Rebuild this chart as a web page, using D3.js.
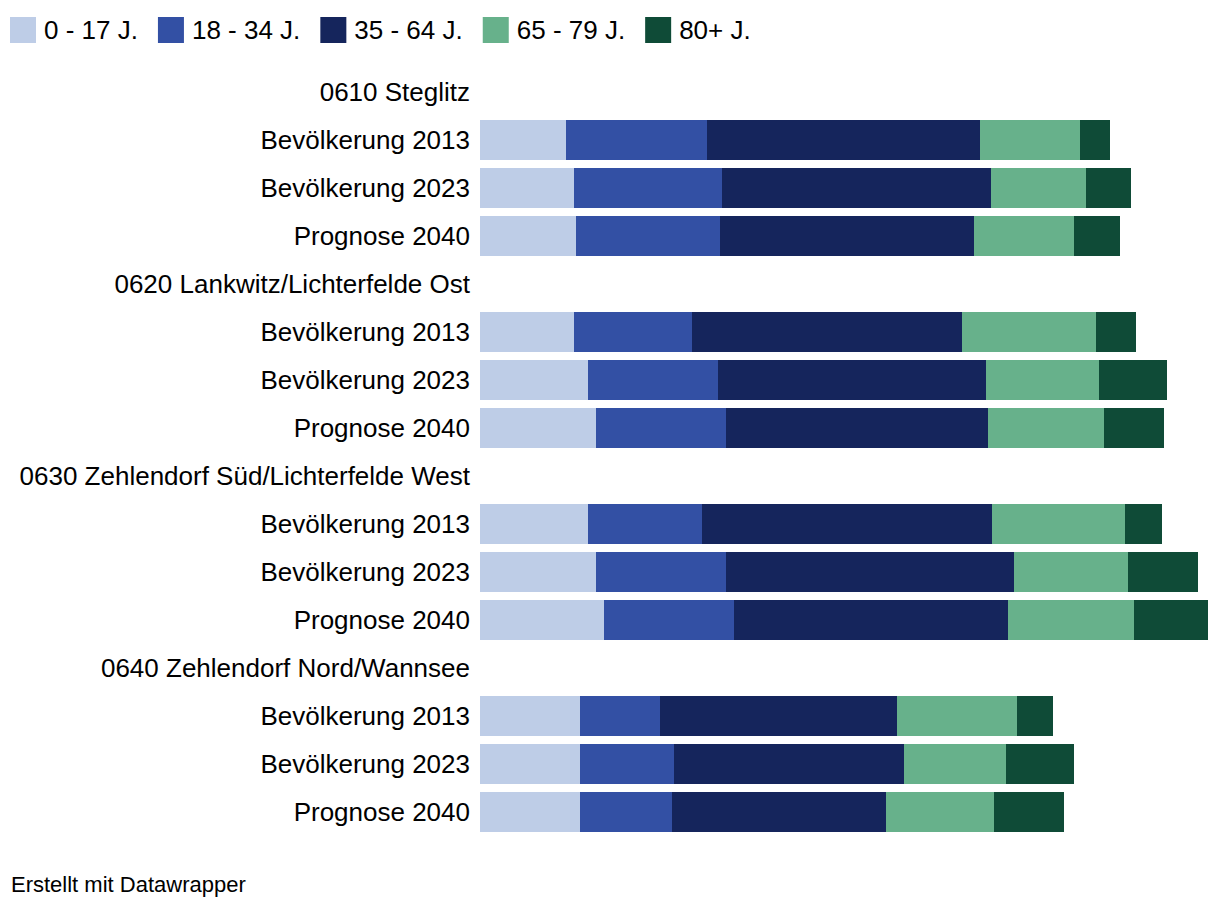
<!DOCTYPE html>
<html>
<head>
<meta charset="utf-8">
<script src="https://cdn.jsdelivr.net/npm/d3@7"></script>
<style>
  html, body { margin: 0; padding: 0; background: #fff; }
  svg { display: block; font-family: "Liberation Sans", Arial, Helvetica, sans-serif; }
</style>
</head>
<body>
<svg id="chart" width="1220" height="906"></svg>
<script>
// ---- data (population in thousands) ----
const ageGroups = ["0 - 17 J.", "18 - 34 J.", "35 - 64 J.", "65 - 79 J.", "80+ J."];
const colors = ["#becde7", "#3350a4", "#15255c", "#67b18b", "#0f4b37"];
const regions = ["0610 Steglitz", "0620 Lankwitz/Lichterfelde Ost", "0630 Zehlendorf Süd/Lichterfelde West", "0640 Zehlendorf Nord/Wannsee"];
const rowLabels = ["Bevölkerung 2013", "Bevölkerung 2023", "Prognose 2040"];

const age0_17  = [10.3, 11.3, 11.5, 11.3, 13.0, 13.9, 13.0, 13.9, 14.9, 12.0, 12.0, 12.0];
const age18_34 = [17.0, 17.8, 17.3, 14.2, 15.6, 15.6, 13.7, 15.6, 15.6, 9.6, 11.3, 11.0];
const age35_64 = [32.7, 32.2, 30.5, 32.4, 32.2, 31.5, 34.8, 34.6, 32.9, 28.5, 27.6, 25.7];
const age65_79 = [12.0, 11.5, 12.0, 16.0, 13.5, 13.9, 15.9, 13.7, 15.1, 14.4, 12.2, 13.0];
const age80    = [3.6, 5.3, 5.5, 4.8, 8.2, 7.2, 4.5, 8.4, 8.9, 4.3, 8.2, 8.4];
const series = [age0_17, age18_34, age35_64, age65_79, age80];

// ---- build rows ----
const rows = [];
let k = 0;
regions.forEach((r, ri) => {
  rows.push({ id: "h" + ri, type: "heading", label: r });
  rowLabels.forEach((lab, li) => {
    const d = { id: "b" + ri + "_" + li, type: "bar", label: lab };
    ageGroups.forEach((g, gi) => d[g] = series[gi][k]);
    rows.push(d);
    k++;
  });
});
const barRows = rows.filter(d => d.type === "bar");
const stacked = d3.stack().keys(ageGroups)(barRows);

const svg = d3.select("#chart");
const fontSize = 26;

const x = d3.scaleLinear()
  .domain([0, d3.max(barRows, d => d3.sum(ageGroups, g => d[g]))])
  .range([480, 1208]);

const y = d3.scaleBand()
  .domain(rows.map(d => d.id))
  .range([68, 836])
  .paddingInner(1 / 6)
  .paddingOuter(1 / 12);

// bars
svg.append("g").selectAll("g")
  .data(stacked)
  .join("g")
  .attr("fill", (d, i) => colors[i])
  .selectAll("rect")
  .data(d => d)
  .join("rect")
  .attr("x", d => x(d[0]))
  .attr("width", d => x(d[1]) - x(d[0]))
  .attr("y", d => y(d.data.id))
  .attr("height", y.bandwidth())
  .attr("shape-rendering", "crispEdges");

// row labels
svg.append("g").selectAll("text")
  .data(rows)
  .join("text")
  .attr("x", 470)
  .attr("y", d => y(d.id) + y.bandwidth() / 2)
  .attr("dy", "0.36em")
  .attr("text-anchor", "end")
  .attr("font-size", fontSize)
  .attr("fill", "#000")
  .text(d => d.label);

// legend
const legend = svg.append("g");
let lx = 10;
ageGroups.forEach((g, i) => {
  legend.append("rect")
    .attr("x", lx).attr("y", 17)
    .attr("width", 26).attr("height", 26)
    .attr("fill", colors[i]);
  const t = legend.append("text")
    .attr("x", lx + 34).attr("y", 30)
    .attr("dy", "0.36em")
    .attr("font-size", fontSize)
    .attr("fill", "#000")
    .text(g);
  lx = lx + 34 + t.node().getComputedTextLength() + 20;
});

// footer
svg.append("text")
  .attr("x", 11).attr("y", 892)
  .attr("font-size", 22)
  .attr("fill", "#000")
  .text("Erstellt mit Datawrapper");
</script>
</body>
</html>
